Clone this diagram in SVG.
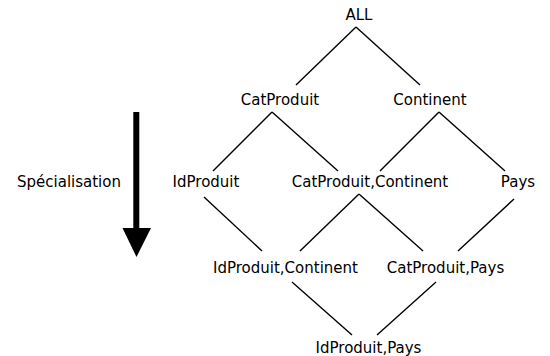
<svg xmlns="http://www.w3.org/2000/svg" width="550" height="356" viewBox="0 0 550 356">
<style>
text{font-family:"DejaVu Sans",sans-serif;font-size:15px;fill:#000;text-anchor:middle}
.e line{stroke:#000;stroke-width:1.4}
</style>
<rect width="550" height="356" fill="#fff"/>
<g class="e" id="edges">
<line x1="356" y1="27" x2="296" y2="85"/>
<line x1="356" y1="27" x2="420" y2="85"/>
<line x1="272" y1="112" x2="213" y2="171"/>
<line x1="272" y1="112" x2="338" y2="171"/>
<line x1="439" y1="112" x2="380" y2="171"/>
<line x1="439" y1="112" x2="505" y2="171"/>
<line x1="204" y1="197" x2="262" y2="251"/>
<line x1="359" y1="194" x2="300" y2="251"/>
<line x1="359" y1="194" x2="423" y2="251"/>
<line x1="514" y1="199" x2="458" y2="251"/>
<line x1="292" y1="282" x2="352" y2="335"/>
<line x1="436" y1="282" x2="377" y2="335"/>
</g>
<g id="n_all"><text x="359" y="20">ALL</text></g>
<g id="n_cat"><text x="280" y="105">CatProduit</text></g>
<g id="n_cont"><text x="430" y="105">Continent</text></g>
<g id="n_id"><text x="206" y="187">IdProduit</text></g>
<g id="n_catcont"><text x="370" y="187">CatProduit,Continent</text></g>
<g id="n_pays"><text x="518" y="187">Pays</text></g>
<g id="n_idcont"><text x="285.5" y="273">IdProduit,Continent</text></g>
<g id="n_catpays"><text x="445.5" y="273">CatProduit,Pays</text></g>
<g id="n_idpays"><text x="368.5" y="353">IdProduit,Pays</text></g>
<g id="spec">
<text x="69" y="187">Spécialisation</text>
<rect x="133.3" y="112" width="6" height="118" fill="#000"/>
<polygon points="122.5,228 151,228 136.5,257" fill="#000"/>
</g>
</svg>
